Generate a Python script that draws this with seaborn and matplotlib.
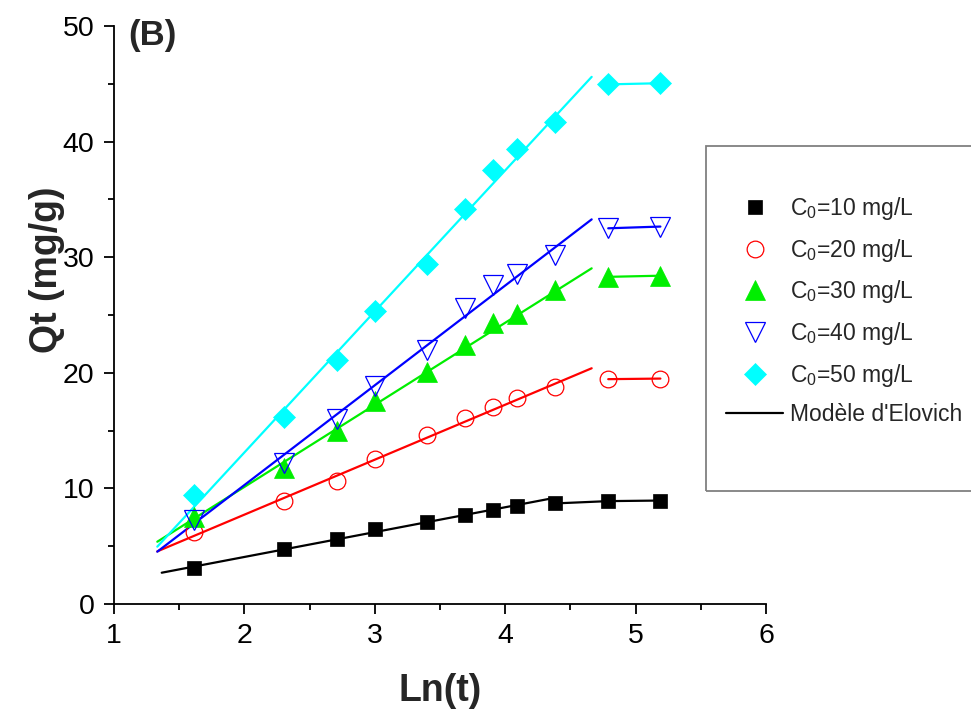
import numpy as np
import pandas as pd
import matplotlib
matplotlib.use("Agg")
import matplotlib.pyplot as plt
import seaborn as sns
from matplotlib.lines import Line2D
from matplotlib.patches import Rectangle

# ---------------- data ----------------
ln_t = [1.61, 2.30, 2.71, 3.00, 3.40, 3.69, 3.91, 4.09, 4.38, 4.79, 5.19]
q_10 = [3.1, 4.8, 5.6, 6.5, 7.1, 7.7, 8.1, 8.5, 8.7, 8.9, 8.95]
q_20 = [6.2, 8.95, 10.65, 12.55, 14.6, 16.1, 17.0, 17.85, 18.8, 19.45, 19.5]
q_30 = [7.5, 11.8, 15.0, 17.6, 20.1, 22.4, 24.35, 25.1, 27.2, 28.3, 28.4]
q_40 = [7.3, 12.2, 16.0, 18.9, 22.0, 25.6, 27.6, 28.55, 30.2, 32.5, 32.65]
q_50 = [9.4, 16.15, 21.1, 25.35, 29.4, 34.15, 37.5, 39.4, 41.7, 44.95, 45.05]

series_labels = ["C$_0$=10 mg/L", "C$_0$=20 mg/L", "C$_0$=30 mg/L",
                 "C$_0$=40 mg/L", "C$_0$=50 mg/L"]
model_label = "Modèle d'Elovich"

# Elovich fit: q = intercept + slope * ln(t), over [fit_start, fit_end]
fit_slope = [2.15, 4.755, 7.10, 8.63, 12.20]
fit_intercept = [-0.23, -1.78, -4.07, -6.97, -11.29]
fit_start = [1.366, 1.332, 1.332, 1.332, 1.332]
fit_end = [4.34, 4.663, 4.663, 4.663, 4.663]
# number of final (plateau) points joined by a segment
plateau_n = [3, 2, 2, 2, 2]

colors = ["#000000", "#ff0000", "#00ee00", "#0000ff", "#00ffff"]
markers = ["s", "o", "^", "v", "D"]
msizes = [9.8, 12.0, 13.8, 14.0, 10.8]
filled = [True, False, True, False, True]

q_all = [q_10, q_20, q_30, q_40, q_50]

# ---------------- style ----------------
sns.set_style("ticks")
plt.rcParams["font.family"] = ["Liberation Sans", "DejaVu Sans"]
plt.rcParams["mathtext.fontset"] = "custom"
plt.rcParams["mathtext.rm"] = "Liberation Sans"
plt.rcParams["mathtext.it"] = "Liberation Sans:italic"
plt.rcParams["mathtext.bf"] = "Liberation Sans:bold"
plt.rcParams["mathtext.default"] = "regular"

fig = plt.figure(figsize=(9.71, 7.2), dpi=100)
ax = fig.add_axes([0.1174, 0.1611, 0.6715, 0.8028])

# fit lines
for i in range(5):
    xs = np.array([fit_start[i], fit_end[i]])
    fdf = pd.DataFrame({"x": xs, "y": fit_intercept[i] + fit_slope[i] * xs})
    sns.lineplot(data=fdf, x="x", y="y", color=colors[i], lw=1.6, ax=ax,
                 zorder=2, legend=False)
    pdf = pd.DataFrame({"x": ln_t[-plateau_n[i]:], "y": q_all[i][-plateau_n[i]:]})
    sns.lineplot(data=pdf, x="x", y="y", color=colors[i], lw=1.6, ax=ax,
                 zorder=2, legend=False)

# markers
for i in range(5):
    df = pd.DataFrame({"x": ln_t, "y": q_all[i]})
    kw = dict(marker=markers[i], markersize=msizes[i], linestyle="",
              color=colors[i], zorder=3, legend=False)
    if filled[i]:
        kw.update(markerfacecolor=colors[i], markeredgecolor=colors[i],
                  markeredgewidth=0.5)
    else:
        kw.update(markerfacecolor="none", markeredgecolor=colors[i],
                  markeredgewidth=0.9)
    sns.lineplot(data=df, x="x", y="y", ax=ax, **kw)

# axes
ax.set_xlim(1, 6)
ax.set_ylim(0, 50)
ax.set_xticks([1, 2, 3, 4, 5, 6])
ax.set_xticks(np.arange(1.5, 6, 1.0), minor=True)
ax.set_yticks([0, 10, 20, 30, 40, 50])
ax.set_yticks([5, 15, 25, 35, 45], minor=True)
ax.tick_params(axis="both", which="major", direction="out", length=7,
               width=1.3, labelsize=20.5, pad=7, color="black", labelcolor="black")
ax.tick_params(axis="both", which="minor", direction="out", length=4.5,
               width=1.3, color="black")
for s in ["top", "right"]:
    ax.spines[s].set_visible(False)
for s in ["left", "bottom"]:
    ax.spines[s].set_linewidth(1.3)
    ax.spines[s].set_color("black")

ax.set_xlabel("Ln(t)", fontsize=27, fontweight="bold")
ax.set_ylabel("Qt (mg/g)", fontsize=27, fontweight="bold")
ax.xaxis.set_label_coords(0.5, -0.12)
ax.yaxis.set_label_coords(-0.075, 0.578)

fig.text(128 / 971, 1 - 35 / 720, "(B)", fontsize=25, fontweight="bold",
         ha="left", va="center")

# legend box
fig.add_artist(Rectangle((706 / 971, (720 - 491) / 720), 0.5, 345 / 720,
                         transform=fig.transFigure, fill=False,
                         edgecolor="#808080", lw=1.3, clip_on=False))

handles = []
for i in range(5):
    if filled[i]:
        h = Line2D([], [], marker=markers[i], ls="", color=colors[i],
                   markersize=msizes[i], markeredgewidth=0.5)
    else:
        h = Line2D([], [], marker=markers[i], ls="", color=colors[i],
                   markerfacecolor="none", markersize=msizes[i],
                   markeredgewidth=0.9)
    handles.append(h)
handles.append(Line2D([], [], color="black", lw=1.6))
labels = series_labels + [model_label]

leg = ax.legend(handles, labels, loc="upper left",
                bbox_to_anchor=(726 / 971, (720 - 195) / 720),
                bbox_transform=fig.transFigure, frameon=False, fontsize=16.5,
                handlelength=2.5, handletextpad=0.3, labelspacing=0.64,
                borderpad=0, borderaxespad=0)

fig.savefig("out.png", dpi=100)
